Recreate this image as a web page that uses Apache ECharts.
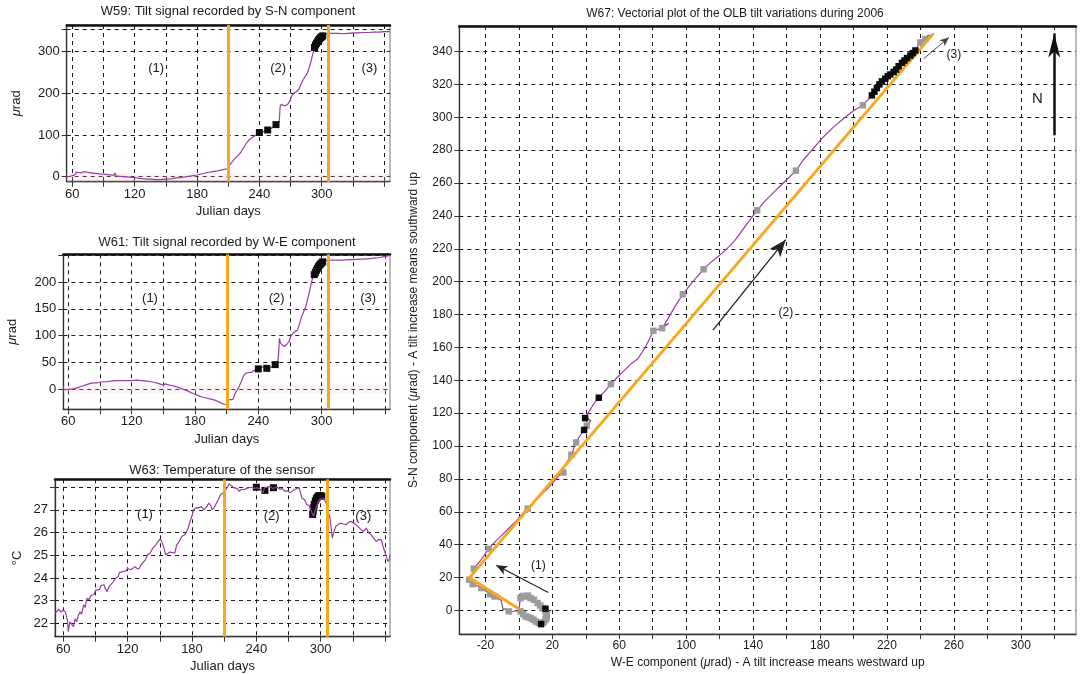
<!DOCTYPE html>
<html>
<head>
<meta charset="utf-8">
<script src="https://cdn.jsdelivr.net/npm/echarts@6/dist/echarts.min.js"></script>
<style>
  html, body { margin: 0; padding: 0; background: #ffffff; }
  #chart { width: 1083px; height: 674px; }
</style>
</head>
<body>
<div id="chart"></div>
<script>
// ---------------- data ----------------
// Phase boundaries (Julian days) separating periods (1), (2), (3)
const phaseBounds = [210.5, 306];

// Axis ticks and labels
const dayTicks = [60, 90, 120, 150, 180, 210, 240, 270, 300, 330, 360];
const dayLabels = [60, 120, 180, 240, 300];
const snTicks = [0, 100, 200, 300, 354];
const snLabels = [0, 100, 200, 300];
const weTicks = [0, 50, 100, 150, 200, 250];
const weLabels = [0, 50, 100, 150, 200];
const tempTicks = [22, 23, 24, 25, 26, 27, 28];
const tempLabels = [22, 23, 24, 25, 26, 27];
const vecXTicks = [-20, 0, 20, 40, 60, 80, 100, 120, 140, 160, 180, 200, 220, 240, 260, 280, 300, 320];
const vecXLabels = [-20, 20, 60, 100, 140, 180, 220, 260, 300];
const vecYTicks = [0, 20, 40, 60, 80, 100, 120, 140, 160, 180, 200, 220, 240, 260, 280, 300, 320, 340];

// W59: S-N tilt [Julian day, µrad]
const snTilt = [[55,0],[58,1],[61,3],[63,6],[64,11],[65,7],[66,10],[68,9],[70,11],[72,12],[74,11],[76,10],[78,10],[80,8],[83,8],[86,7],[90,6],[94,5],[98,4],[100,3],[101,9],[102,2],[106,1],[110,0],[115,-1],[120,-2],[125,-4],[130,-5],[135,-6],[140,-7],[145,-7],[150,-6],[155,-5],[160,-3],[165,-2],[170,0],[175,2],[180,4],[185,7],[190,10],[195,12],[200,14],[205,17],[209,19],[210.5,21],[211.5,28],[213,33],[216,42],[219,50],[222,58],[225,70],[228,82],[230,88],[232,92],[235,97],[238,101],[240,105],[243,107],[246,110],[249,113],[252,117],[254,121],[257,126],[259,130],[260,168],[261,174],[263,171],[265,170],[267,173],[269,180],[271,193],[273,200],[276,205],[278,210],[280,222],[282,232],[284,240],[286,248],[288,262],[290,280],[292,300],[293,310],[294,316],[296,324],[298,331],[300,336],[302,340],[304,342],[306,344],[310,344],[315,344],[320,343],[325,344],[330,345],[335,345],[340,346],[345,346],[350,347],[355,347],[360,348],[365.5,348]];
const snMarks = [[240,106],[248,112],[256,125],[293,310],[294,316],[295,320],[296,324],[297,328],[298,331],[299,334],[300,336],[301,338]];

// W61: W-E tilt [Julian day, µrad]
const weTilt = [[55,-1],[58,-1],[60,0],[63,0],[66,1],[69,3],[72,5],[75,7],[78,9],[81,11],[84,12],[87,12],[90,13],[93,14],[96,14],[100,15],[105,16],[110,16],[115,16],[120,16],[125,17],[130,16],[135,15],[138,14],[141,13],[145,11],[148,9],[150,8],[152,10],[155,8],[158,7],[162,5],[166,2],[170,-1],[174,-4],[178,-8],[182,-11],[186,-14],[190,-16],[194,-18],[198,-20],[202,-23],[205,-26],[208,-28],[210.5,-29],[211.5,-20],[213,-20],[216,-19],[218,-8],[220,-2],[222,6],[224,15],[226,25],[228,30],[231,31],[234,32],[236,35],[238,36],[240,38],[242,41],[244,42],[246,40],[248,39],[250,39],[252,41],[254,44],[256,45],[258,47],[259,60],[260,95],[261,86],[263,82],[265,80],[267,84],[269,89],[271,100],[273,105],[275,108],[277,110],[279,122],[281,136],[283,145],[285,155],[287,170],[289,188],[291,205],[293,214],[295,222],[297,229],[299,234],[301,238],[303,240],[306,241],[310,241],[315,241],[320,241],[325,242],[330,242],[335,243],[340,243],[345,244],[350,245],[355,246],[360,248],[364.7,250]];
const weMarks = [[240,38],[248,39],[256,46],[293,214],[294,218],[295,222],[296,226],[297,229],[298,232],[299,234],[300,236],[301,238]];

// W63: sensor temperature [Julian day, °C]
const sensorTemp = [[52.5,22.44],[54,22.48],[55.5,22.62],[56.8,22.54],[58,22.5],[60,22.59],[62,22.5],[63,22.44],[64,22.1],[64.7,21.63],[65.5,21.9],[66.3,22.07],[68,21.95],[69.5,21.85],[71,22.2],[72.6,22.07],[74,22.35],[75.8,22.51],[77,22.4],[79,22.81],[80.5,22.7],[82,23.1],[84,23.05],[85.5,23.2],[86.8,23.25],[89,23.3],[90,23.45],[91.5,23.47],[94,23.5],[95,23.65],[96.3,23.62],[98,23.7],[99,23.55],[101,23.4],[102.5,23.6],[104.2,23.69],[106,23.8],[107.5,23.85],[109,23.99],[111,24.05],[112.5,24.25],[113.6,24.2],[116,24.28],[118.4,24.31],[120,24.42],[121,24.38],[123,24.36],[124.7,24.43],[127,24.5],[129,24.4],[131,24.43],[132.5,24.58],[134,24.65],[136.5,24.8],[138.9,25.02],[141,25.1],[143.6,25.32],[146,25.45],[148.3,25.6],[150.5,25.73],[153,25.46],[155.6,25.02],[157,25.1],[159.4,25.14],[161,25.2],[162,25.12],[164,25.1],[165.7,25.46],[168,25.6],[170.4,25.83],[173,25.9],[175,26.05],[176.5,26.2],[178.3,26.5],[180,26.75],[181.5,27.01],[184,27.1],[186.2,27.09],[188.5,27.15],[191,27.01],[193,27.1],[195.7,27.3],[197.5,27.2],[198.8,27.01],[200.5,27.1],[202,27.23],[204,27.4],[206.7,27.68],[209,27.75],[211.5,27.9],[213,28.0],[214.7,28.15],[217,28.05],[219.4,27.97],[222,27.95],[224,27.82],[226,27.9],[228.8,27.9],[231,27.95],[235,28],[238,27.95],[241,27.97],[244,27.9],[246,27.75],[247.6,27.97],[250,28.0],[252.4,28.04],[255,27.95],[257,27.97],[259,28.02],[262,27.9],[264,27.95],[266.6,27.82],[269,27.85],[271.4,27.75],[274,27.85],[276,27.9],[278,27.95],[280,27.97],[282.4,27.53],[285,27.45],[287,27.23],[289,27.2],[290.3,27.09],[292,26.85],[293.4,26.72],[295,27.01],[296.5,27.2],[298,27.38],[299.5,27.48],[301,27.53],[303,27.5],[304.5,27.45],[306,27.2],[307,26.86],[308.5,26.7],[310.8,25.76],[312,26.0],[314,26.27],[316,26.35],[318.7,26.42],[321,26.38],[323.4,26.35],[326,26.45],[328,26.5],[330.5,26.42],[333,26.35],[335,26.25],[337.6,26.13],[340,26.05],[342.4,26.2],[344.5,26.0],[347,25.9],[349.5,25.75],[351.8,25.6],[354,25.7],[356.5,25.68],[358,25.4],[359.7,25.17],[361,24.95],[362.8,24.72],[364,24.85],[364.6,25.02]];
const tempMarks = [[240,28.0],[248,27.86],[256,27.98],[292.5,26.8],[293,26.95],[293.5,27.1],[294,27.25],[295,27.4],[296,27.5],[297,27.57],[298,27.61],[299,27.63],[300,27.63],[301,27.6]];

// W67: tilt vector path [W-E µrad, S-N µrad]
const tiltPath = [[0,0],[0.5,4],[1,7.5],[2.5,9],[4,8.5],[7,7.5],[9,6],[11.2,4.5],[13,3],[14.3,1.4],[16,-1],[16.7,-2.6],[16.5,-4.5],[15.9,-5.7],[14.5,-7.5],[13.3,-8.3],[11.5,-7.5],[10.2,-6.7],[8.5,-5.8],[7.1,-4.7],[5.5,-4.2],[4,-3.6],[2.5,-2],[1,-0.6],[-2,-0.2],[-4,-0.8],[-6.1,-0.6],[-8,1],[-9.5,0.5],[-10.5,6],[-12,7],[-14.3,8.5],[-16,7.5],[-17.3,9.9],[-20,12],[-22.4,13.6],[-25,15],[-27.6,16],[-29.6,18.7],[-28,22],[-26.9,25.4],[-24,29],[-21,33],[-18,37.5],[-14,42],[-10,46],[-6,50],[-2,54],[1,57.5],[5,62],[9,66],[13,70],[17,74],[21,78.5],[25.6,84],[28,89],[31.4,94.7],[34.2,102.2],[37,107],[39,109.8],[40.6,112.4],[43,115.5],[41,116.5],[39.6,117],[42,121],[45,126],[47.8,129.4],[51,133],[55,137.6],[59,142],[63,146],[67,150],[71,153],[75,159],[78,165],[80.4,170.1],[85.6,171.7],[89.6,174.7],[86.5,173],[90,179],[94,186],[98,192.3],[104,200],[110.4,207.5],[115,212],[120,216],[126,221.6],[129,225],[132,229],[137,236],[142.4,243.4],[147,249],[152,254],[158,260],[165.6,267.5],[170,274],[176,281],[182,288],[188,294],[195,300],[200,304],[205.6,307.3],[208,310],[211,313.3],[213,316.4],[215,319.4],[217,321.8],[219,323.4],[222,325.9],[224,327.5],[226.4,329.9],[229,333.1],[231,335.5],[234,337.5],[237,340.6],[240,346],[244.4,349.7],[247,350],[245,348],[243,346],[246,349],[248,351]];
const tiltGray = [[1,7.5],[2.5,8.8],[4,8.5],[5.5,9],[7,7.5],[9,6.5],[11.2,4.5],[12.8,3],[14.3,1.4],[16,-1],[16.7,-2.6],[16.6,-4.5],[15.9,-5.7],[14.8,-7.2],[11.8,-7.6],[10.2,-6.7],[8.6,-5.6],[7.1,-4.7],[5.5,-4.2],[4,-3.6],[2.5,-2.2],[1,-0.6],[-6.1,-0.6],[-14.3,8.5],[-17.3,9.9],[-22.4,13.6],[-27.6,16],[-29.6,18.7],[-26.9,25.4],[-18,37.5],[5.3,62],[26.6,83.9],[31.4,94.7],[34.2,102.2],[40.6,112.4],[55,137.6],[80.4,170.1],[85.6,171.7],[98,192.3],[110.4,207.5],[142.4,243.4],[165.6,267.5],[205.6,307.3],[240,345.5],[243,347.5]];
const tiltBlack = [[15.9,1],[13.3,-8.3],[39,109.8],[39.6,117],[47.8,129.4],[211,313.3],[212.5,315.5],[214,317.8],[215.5,320],[217,321.8],[219,323.4],[220.5,325],[222,326],[224,327.5],[225.5,329],[227,331],[229,333.1],[230.5,334.5],[232,336],[234,337.5],[235.5,339],[237,340.6]];
// Straight-line summary of the three periods
const trendPath = [[0,1],[-29.6,19.8],[247.6,350.7]];

// Direction arrows [start, end] and their labels
const arrowPeriod1 = [[17.6,10.9],[-13.5,27.5]];
const arrowPeriod2 = [[116,170.5],[159.5,225.5]];
const arrowPeriod3 = [[242,335.6],[257,348.5]];
const arrowNorth = [[320,289],[320,351]];
const vecTags = [['(1)',11.7,27],['(2)',159.6,181.2],['(3)',260,338]];
const northTag = [['N',310,311]];
const snTags = [['(1)',140.6,260],['(2)',258,260],['(3)',345.8,260]];
const weTags = [['(1)',137.4,170],['(2)',257.3,170],['(3)',344,170]];
const tempTags = [['(1)',136.2,26.78],['(2)',254.3,26.7],['(3)',339.7,26.7]];

// ---------------- styling ----------------
const PURPLE = '#983ca4';
const ORANGE = '#f7a81e';
const INK = '#1a1a1a';
const FONT = '"Liberation Sans", Arial, Helvetica, sans-serif';
const DASH = { color: '#1a1a1a', width: 1, type: [4, 4] };

const grids = [
  { left: 66.7, top: 25, width: 323.3, height: 156.7 },
  { left: 63.3, top: 254.3, width: 326.7, height: 155 },
  { left: 55, top: 479.3, width: 335, height: 157.4 },
  { left: 459.3, top: 26, width: 616.7, height: 610 }
].map(g => Object.assign({ show: true, borderColor: '#777', borderWidth: 1, containLabel: false }, g));

function bottomAxis(gridIndex, min, max, ticks, labels, name, fs, nameGap) {
  return {
    type: 'value', gridIndex, min, max, position: 'bottom',
    name, nameLocation: 'middle', nameGap,
    nameTextStyle: { fontSize: fs, color: INK, fontFamily: FONT, rich: { i: { fontStyle: 'italic', fontSize: fs, color: INK, fontFamily: FONT } } },
    axisLine: { onZero: false, lineStyle: { color: '#333', width: 1.3 } },
    axisTick: { customValues: ticks, length: 5, lineStyle: { color: '#333', width: 1 } },
    axisLabel: { customValues: labels, fontSize: fs, color: INK, fontFamily: FONT, margin: 6 },
    splitLine: { show: true, lineStyle: DASH }
  };
}
function leftAxis(gridIndex, min, max, ticks, labels, name, fs, nameGap) {
  return {
    type: 'value', gridIndex, min, max, position: 'left',
    name, nameLocation: 'middle', nameGap, nameRotate: 90,
    nameTextStyle: { fontSize: fs, color: INK, fontFamily: FONT, rich: { i: { fontStyle: 'italic', fontSize: fs, color: INK, fontFamily: FONT } } },
    axisLine: { onZero: false, lineStyle: { color: '#333', width: 1.3 } },
    axisTick: { customValues: ticks, length: 5, lineStyle: { color: '#333', width: 1 } },
    axisLabel: { customValues: labels, fontSize: fs, color: INK, fontFamily: FONT, margin: 7 },
    splitLine: { show: true, lineStyle: DASH }
  };
}
function topFrame(gridIndex, min, max) {
  return {
    type: 'value', gridIndex, min, max, position: 'top',
    axisLine: { show: true, onZero: false, lineStyle: { color: '#111', width: 2.5 } },
    axisTick: { show: false }, axisLabel: { show: false }, splitLine: { show: false }
  };
}

const xRanges = [[54.6, 365.7], [55.3, 364.7], [52.3, 364.6], [-35.6, 333]];

const xAxis = [
  bottomAxis(0, xRanges[0][0], xRanges[0][1], dayTicks, dayLabels, 'Julian days', 13, 23),
  bottomAxis(1, xRanges[1][0], xRanges[1][1], dayTicks, dayLabels, 'Julian days', 13, 24),
  bottomAxis(2, xRanges[2][0], xRanges[2][1], dayTicks, dayLabels, 'Julian days', 13, 23),
  bottomAxis(3, xRanges[3][0], xRanges[3][1], vecXTicks, vecXLabels, 'W-E component ({i|μ}rad) - A tilt increase means westward up', 12, 22),
  topFrame(0, xRanges[0][0], xRanges[0][1]),
  topFrame(1, xRanges[1][0], xRanges[1][1]),
  topFrame(2, xRanges[2][0], xRanges[2][1]),
  topFrame(3, xRanges[3][0], xRanges[3][1])
];
const yAxis = [
  leftAxis(0, -12, 364, snTicks, snLabels, '{i|μ}rad', 13, 44),
  leftAxis(1, -37.5, 252, weTicks, weLabels, '{i|μ}rad', 13, 44),
  leftAxis(2, 21.41, 28.35, tempTicks, tempLabels, '°C', 13, 31),
  leftAxis(3, -14.4, 355.5, vecYTicks, vecYTicks, 'S-N component ({i|μ}rad) - A tilt increase means southward up', 12, 40)
];

function phaseLines() {
  return {
    silent: true, symbol: ['none', 'none'], animation: false,
    label: { show: false },
    lineStyle: { color: ORANGE, width: 3, type: 'solid' },
    data: phaseBounds.map(d => ({ xAxis: d }))
  };
}
function traceSeries(idx, data, bandLow, bandHigh) {
  const s = {
    type: 'line', xAxisIndex: idx, yAxisIndex: idx, data,
    showSymbol: false, symbol: 'none', z: 3,
    lineStyle: { color: PURPLE, width: 1.2 },
    markLine: phaseLines()
  };
  if (bandLow !== undefined) {
    s.markArea = { silent: true, itemStyle: { color: 'rgba(235,200,205,0.22)' },
      data: [[{ xAxis: xRanges[idx][0], yAxis: bandLow }, { xAxis: xRanges[idx][1], yAxis: bandHigh }]] };
  }
  return s;
}
function markSeries(idx, data, size, z, color) {
  return {
    type: 'scatter', xAxisIndex: idx, yAxisIndex: idx, data,
    symbol: 'rect', symbolSize: size, z,
    itemStyle: { color: color || '#0d0d0d', opacity: 1 }
  };
}
function tagSeries(idx, tags, fs, boxed) {
  return {
    type: 'scatter', xAxisIndex: idx, yAxisIndex: idx, z: 7, silent: true,
    symbolSize: 0, itemStyle: { opacity: 1 },
    data: tags.map(t => ({ name: t[0], value: [t[1], t[2]] })),
    label: Object.assign({ show: true, position: 'inside', formatter: '{b}', color: INK, fontFamily: FONT,
      fontSize: fs }, boxed ? { backgroundColor: '#ffffff', padding: [1, 1] } : {})
  };
}
function arrow(pts, width, head, color) {
  return [
    { coord: pts[0], symbol: 'none', lineStyle: { color, width, type: 'solid' }, itemStyle: { color } },
    { coord: pts[1], symbol: 'arrow', symbolSize: head, itemStyle: { color } }
  ];
}

const series = [
  // W59
  traceSeries(0, snTilt, -12, 9),
  markSeries(0, snMarks, 7, 4),
  tagSeries(0, snTags, 13),
  // W61
  traceSeries(1, weTilt, -8, 7),
  markSeries(1, weMarks, 7, 4),
  tagSeries(1, weTags, 13),
  // W63
  markSeries(2, tempMarks, 7, 2),
  traceSeries(2, sensorTemp),
  tagSeries(2, tempTags, 13),
  // W67 vector plot
  {
    type: 'line', xAxisIndex: 3, yAxisIndex: 3, data: tiltPath,
    showSymbol: false, symbol: 'none', z: 2,
    lineStyle: { color: PURPLE, width: 1.2 }
  },
  markSeries(3, tiltGray, 6.5, 3, '#9b9b9b'),
  {
    type: 'line', xAxisIndex: 3, yAxisIndex: 3, data: trendPath,
    showSymbol: false, symbol: 'none', z: 4,
    lineStyle: { color: ORANGE, width: 3 }
  },
  markSeries(3, tiltBlack, 6.5, 5),
  {
    type: 'line', xAxisIndex: 3, yAxisIndex: 3, data: [], z: 6,
    markLine: {
      silent: true, animation: false, label: { show: false },
      data: [
        arrow(arrowPeriod1, 1.2, [7, 11], '#222'),
        arrow(arrowPeriod2, 1.3, [10, 17], '#222'),
        arrow(arrowPeriod3, 1, [6, 9], '#444'),
        arrow(arrowNorth, 2.5, [9, 24], '#111')
      ]
    }
  },
  tagSeries(3, vecTags, 12, true),
  tagSeries(3, northTag, 15)
];

const titleStyle = { fontSize: 13, fontWeight: 'normal', color: INK, fontFamily: FONT };
const option = {
  animation: false,
  backgroundColor: '#ffffff',
  title: [
    { text: 'W59: Tilt signal recorded by S-N component', left: 228, top: 5, padding: 0, textAlign: 'center', textStyle: titleStyle },
    { text: 'W61: Tilt signal recorded by W-E component', left: 227, top: 236, padding: 0, textAlign: 'center', textStyle: titleStyle },
    { text: 'W63: Temperature of the sensor', left: 222, top: 464, padding: 0, textAlign: 'center', textStyle: titleStyle },
    { text: 'W67: Vectorial plot of the OLB tilt variations during 2006', left: 735, top: 8, padding: 0, textAlign: 'center', textStyle: Object.assign({}, titleStyle, { fontSize: 12 }) }
  ],
  grid: grids,
  xAxis,
  yAxis,
  series
};

const chart = echarts.init(document.getElementById('chart'), null, { renderer: 'canvas' });
chart.setOption(option);
</script>
</body>
</html>
